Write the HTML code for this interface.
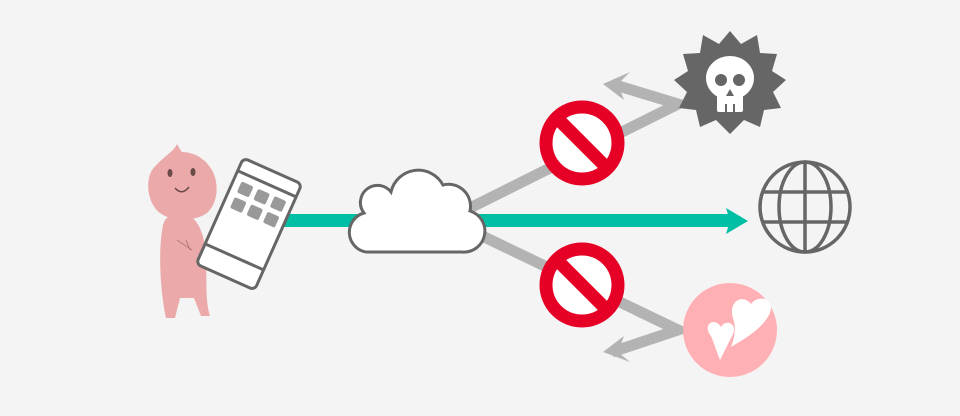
<!DOCTYPE html>
<html><head><meta charset="utf-8"><style>html,body{margin:0;padding:0;background:#f4f4f4}svg{display:block}</style></head>
<body>
<svg width="960" height="416" viewBox="0 0 960 416" xmlns="http://www.w3.org/2000/svg">
<rect width="960" height="416" fill="#f4f4f4"/>
<g fill="none" stroke="#b3b3b3" stroke-width="11" stroke-linejoin="miter">
<polyline points="470,208 678,104 612,84"/>
<polyline points="476,233 678,330 612,352"/>
</g>
<polygon points="603,84 630,72 618,84 624,100" fill="#b3b3b3"/>
<polygon points="603,352 624,336 618,352 630,362" fill="#b3b3b3"/>
<rect x="280" y="214" width="450" height="13" fill="#00bfa5"/>
<polygon points="748,221 726,208 730,221 726,234" fill="#00bfa5"/>
<g fill="#eba9a9">
<path d="M177,144 C174,152 158,160 151,172 C145,185 149,205 160,213 C170,221 195,222 207,213 C218,203 219,185 213,172 C207,160 195,152 182,152 C180,150 179,147 177,144 Z"/>
<path d="M163,225 C158,250 160,290 166,318 L175,318 L180,298 L194,298 L201,316 L210,316 C205,300 207,280 206,255 C204,230 196,215 182,213 C170,213 165,218 163,225 Z"/>
</g>
<ellipse cx="170" cy="173" rx="2.5" ry="4" fill="#6b4a4a"/>
<ellipse cx="193" cy="172" rx="2.5" ry="4" fill="#6b4a4a"/>
<path d="M175,188 Q182,196 189,187" fill="none" stroke="#6b4a4a" stroke-width="1.5"/>
<path d="M177,240 L192,250 M186,240 L190,250" stroke="#b07a7a" stroke-width="1" fill="none"/>
<g transform="translate(249,224) rotate(24)">
<rect x="-32" y="-58" width="64" height="116" rx="5" fill="#fff" stroke="#666" stroke-width="3"/>
<line x1="-32" y1="-44" x2="32" y2="-44" stroke="#666" stroke-width="3"/>
<line x1="-32" y1="36" x2="32" y2="36" stroke="#666" stroke-width="3"/>
<g fill="#999">
<rect x="-24" y="-36" width="13" height="12" rx="2"/>
<rect x="-6" y="-36" width="13" height="12" rx="2"/>
<rect x="12" y="-36" width="13" height="12" rx="2"/>
<rect x="-24" y="-19" width="13" height="12" rx="2"/>
<rect x="-6" y="-19" width="13" height="12" rx="2"/>
<rect x="12" y="-19" width="13" height="12" rx="2"/>
</g>
</g>
<path d="M366,252 A20,20 0 0 1 364,213 A16,16 0 0 1 391,192 A28,28 0 0 1 443,185 A22,22 0 0 1 470,211 A21,21 0 0 1 462,252 Z" fill="#fff" stroke="#666" stroke-width="3"/>
<g transform="translate(582,143)">
<circle r="36" fill="#fff" stroke="#e60026" stroke-width="13"/>
<rect x="-34" y="-6.5" width="68" height="13" fill="#e60026" transform="rotate(45)"/>
</g>
<g transform="translate(582,285)">
<circle r="36" fill="#fff" stroke="#e60026" stroke-width="13"/>
<rect x="-34" y="-6.5" width="68" height="13" fill="#e60026" transform="rotate(45)"/>
</g>
<polygon fill="#666" points="730,31 741,44 757,35 760,53 777,54 772,71 786,80 773,92 781,108 764,110 760,127 744,120 730,134 716,120 700,127 696,110 679,108 687,92 674,80 688,71 683,54 700,53 703,35 719,44"/>
<g fill="#fff">
<ellipse cx="730" cy="78" rx="24" ry="22"/>
<rect x="717" y="92" width="26" height="20" rx="2"/>
</g>
<circle cx="721" cy="80" r="6" fill="#666"/>
<circle cx="739" cy="80" r="6" fill="#666"/>
<polygon points="730,89 726,96 734,96" fill="#666"/>
<line x1="726" y1="104" x2="726" y2="112" stroke="#666" stroke-width="2"/>
<line x1="734" y1="104" x2="734" y2="112" stroke="#666" stroke-width="2"/>
<g fill="none" stroke="#666" stroke-width="3.5">
<circle cx="805" cy="207" r="45"/>
<ellipse cx="805" cy="207" rx="26" ry="45"/>
<line x1="805" y1="162" x2="805" y2="252"/>
<line x1="763" y1="192" x2="847" y2="192"/>
<line x1="763" y1="222" x2="847" y2="222"/>
</g>
<circle cx="730" cy="330" r="47" fill="#ffb0b5"/>
<path d="M733,318 C728,302 742,293 751,304 C758,294 777,298 769,315 C762,328 748,337 731,347 C735,337 736,327 733,318 Z" fill="#fff"/>
<path d="M711,336 C702,325 714,316 721,327 C726,318 740,324 731,338 L720,360 C716,350 714,343 711,336 Z" fill="#fff"/>
</svg>
</body></html>
